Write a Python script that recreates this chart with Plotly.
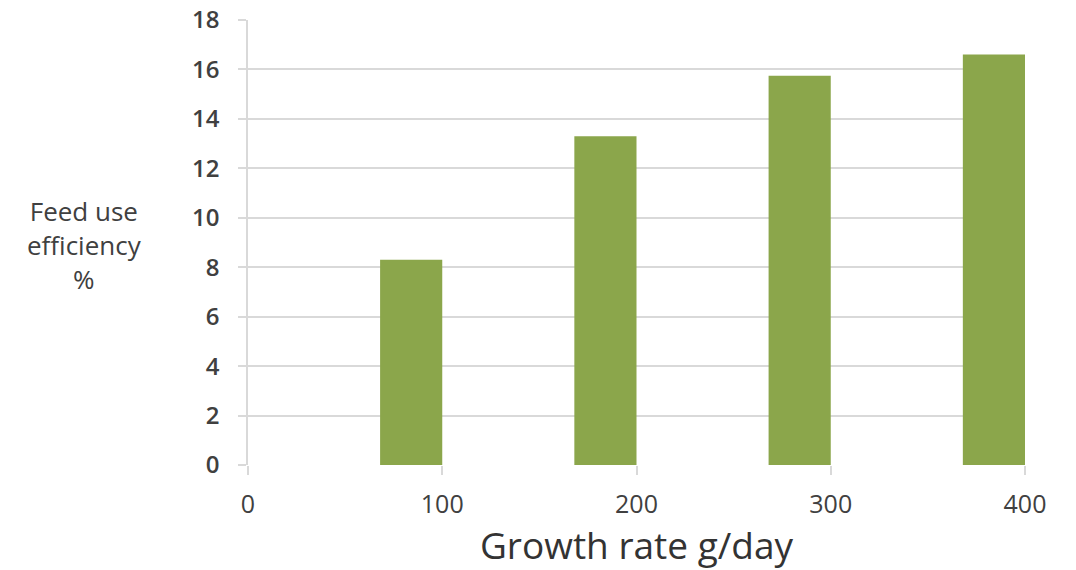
import plotly.graph_objects as go

growth_rate = [100, 200, 300, 400]
efficiency = [8.3, 13.3, 15.75, 16.6]
x_ticks = [0, 100, 200, 300, 400]
y_ticks = [0, 2, 4, 6, 8, 10, 12, 14, 16, 18]

fig = go.Figure()
fig.add_trace(go.Bar(
    x=growth_rate, y=efficiency,
    width=32, offset=-32,
    marker=dict(color="#8BA64B", line=dict(width=0)),
))

fig.update_layout(
    width=1076, height=570,
    margin=dict(l=248, r=51, t=20, b=105),
    paper_bgcolor="white", plot_bgcolor="white",
    showlegend=False,
    font=dict(family="Open Sans", color="#404040"),
    xaxis=dict(
        range=[0, 400], tickvals=x_ticks, ticktext=[str(v) for v in x_ticks],
        showgrid=False, zeroline=False,
        showline=False, automargin=False,
        ticks="outside", ticklen=9, tickcolor="#D9D9D9", tickwidth=1.5,
        tickfont=dict(size=25, color="#404040"),
        ticklabelstandoff=8,
        title=dict(text="Growth rate g/day", font=dict(size=37, color="#333333"), standoff=11),
    ),
    yaxis=dict(
        range=[0, 18], tickvals=y_ticks, automargin=False,
        showgrid=True, gridcolor="#D9D9D9", gridwidth=1.5,
        zeroline=False,
        showline=True, linecolor="#D9D9D9", linewidth=1.5,
        ticks="outside", ticklen=8, tickcolor="#D9D9D9", tickwidth=1.5,
        tickfont=dict(size=24, color="#404040", weight=600),
        ticklabelstandoff=14,
    ),
    annotations=[dict(
        text="Feed use<br>efficiency<br>%",
        xref="paper", yref="paper", x=-0.21, y=0.495,
        xanchor="center", yanchor="middle", showarrow=False,
        font=dict(size=26, color="#404040", family="Open Sans"),
        align="center",
    )],
)

fig.write_html("out.html")
